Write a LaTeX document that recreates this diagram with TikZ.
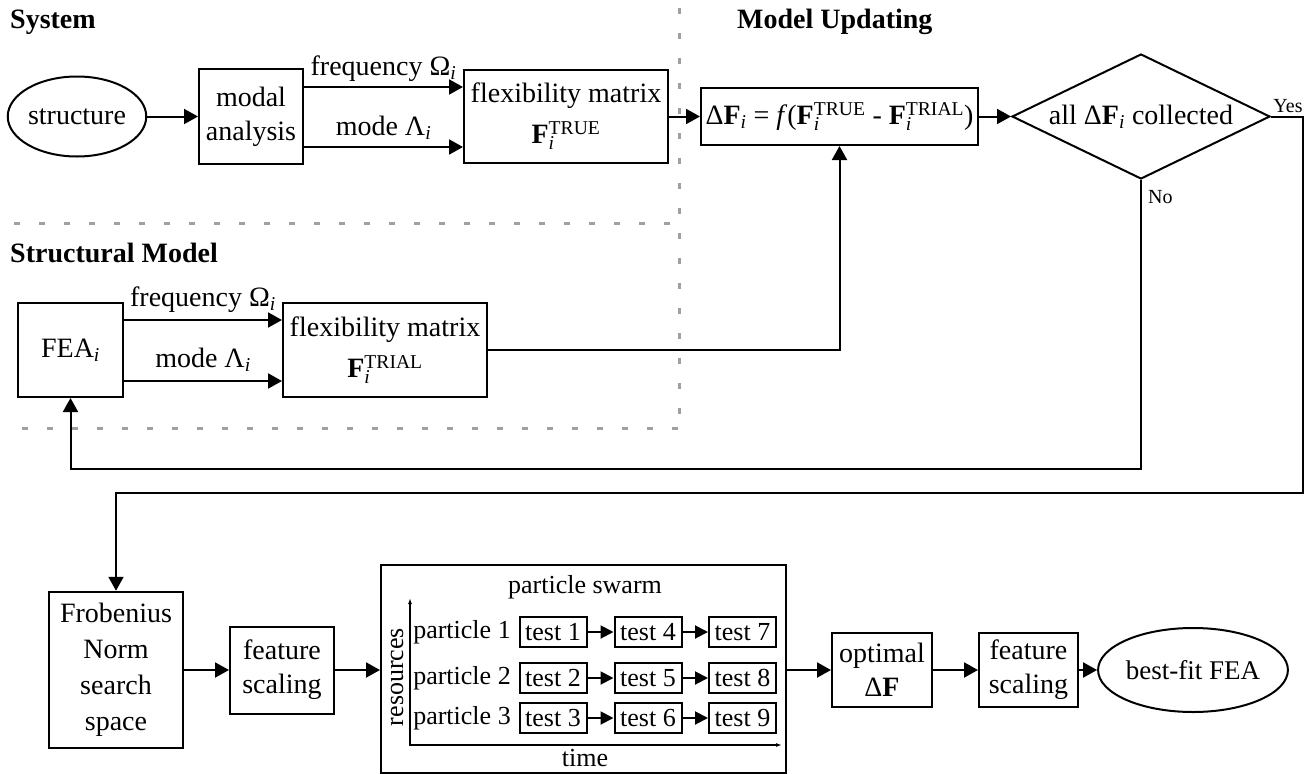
\documentclass[tikz,border=0pt]{standalone}
\usepackage{fontspec}
\setmainfont{Liberation Serif}
\usetikzlibrary{arrows.meta,shapes.geometric,calc}
\definecolor{dashgray}{RGB}{160,160,160}
\newcommand{\Fsup}[1]{$\mathbf{F}_{\mathit{i}}^{\mathrm{#1}}$}
\newcommand{\isub}{$_{\mathit{i}}$}
\begin{document}
\begin{tikzpicture}[x=1pt,y=-1pt,
  every node/.style={font=\fontsize{28}{34}\selectfont},
  box/.style={draw, line width=2pt, rectangle, inner sep=2pt, align=center},
  oval/.style={draw, line width=2pt, ellipse, inner sep=0pt},
  arr/.style={line width=2pt, -{Triangle[length=14pt,width=15pt]}},
  arrs/.style={line width=2pt, -{Triangle[length=13pt,width=13pt]}},
  sepline/.style={draw=dashgray, line width=3pt, dash pattern=on 6pt off 19pt},
  title/.style={font=\fontsize{28}{34}\selectfont\bfseries, anchor=base west, inner sep=0pt},
  small/.style={font=\fontsize{20}{24}\selectfont, inner sep=0pt},
  tbox/.style={draw, line width=2pt, minimum width=67pt, minimum height=30pt, inner sep=1pt, font=\fontsize{26}{30}\selectfont},
  plabel/.style={font=\fontsize{26}{30}\selectfont, inner sep=0pt},
  lbl/.style={anchor=base, inner sep=0pt, yshift=12pt},
]
\useasboundingbox (0,0) rectangle (1310,774);

% separators
\draw[sepline] (679,8) -- (679,428);
\draw[sepline] (14,223) -- (679,223);
\draw[sepline] (22,428) -- (679,428);

% titles
\node[title] (tsys) at (10,28) {System};
\node[title] (tmu) at (737,28) {Model Updating};
\node[title] (tsm) at (10,262) {Structural Model};

% helper heights
\coordinate (y87) at (0,87);
\coordinate (y147) at (0,147);
\coordinate (y320) at (0,320);
\coordinate (y381) at (0,381);

% system row
\node[oval, minimum width=130pt, minimum height=80pt] (struct) at (77,116.5) {structure};
\node[box, minimum width=104pt, minimum height=95pt] (modal) at (251,116.5) {modal\\analysis};
\node[box, minimum width=204pt, minimum height=93pt] (ftrue) at (566,116.5) {flexibility matrix\\[7pt]\Fsup{TRUE}};
\node[box, minimum width=277pt, minimum height=57pt, inner sep=0pt] (dF) at (839.5,116.5) {Δ$\mathbf{F}_{\mathit{i}}$ = \textit{f}(\Fsup{TRUE} - \Fsup{TRIAL})};
\node[draw, line width=2pt, diamond, shape aspect=2.064, minimum width=258pt, minimum height=125pt, inner sep=0pt] (dia) at (1141,116.5) {all Δ$\mathbf{F}_{\mathit{i}}$ collected};

\draw[arr] (struct.east) -- (modal.west);
\draw[arr] (modal.east |- y87) -- node[lbl] (lf1) {frequency Ω\isub} (ftrue.west |- y87);
\draw[arr] (modal.east |- y147) -- node[lbl] (lm1) {mode Λ\isub} (ftrue.west |- y147);
\draw[arr] (ftrue.east) -- (dF.west);
\draw[arr] (dF.east) -- (dia.west);

% structural model row
\node[box, minimum width=105pt, minimum height=94pt] (fea) at (70.5,350) {FEA\isub};
\node[box, minimum width=204pt, minimum height=94pt] (ftrial) at (385,350) {flexibility matrix\\[7pt]\Fsup{TRIAL}};
\draw[arr] (fea.east |- y320) -- node[lbl, yshift=2pt] (lf2) {frequency Ω\isub} (ftrial.west |- y320);
\draw[arr] (fea.east |- y381) -- node[lbl, yshift=2pt] (lm2) {mode Λ\isub} (ftrial.west |- y381);
\draw[arr] (ftrial.east) -| (dF.south);

% decision branches
\node[small, anchor=base] (yes) at (1288,112) {Yes};
\node[small, anchor=base west] (no) at (1148,203) {No};
\coordinate (c1) at (1303,493);
\coordinate (c2) at (70.5,469);

% bottom row
\node[box, line width=2.5pt, minimum width=134pt, minimum height=156pt, font=\fontsize{28}{36}\selectfont] (frob) at (116,670) {Frobenius\\Norm\\search\\space};
\node[box, minimum width=104pt, minimum height=87pt] (fs1) at (282,670) {feature\\scaling};
\node[box, minimum width=405pt, minimum height=208pt] (swarm) at (583.5,669) {};
\node[box, minimum width=100pt, minimum height=74pt] (opt) at (882,670) {optimal\\Δ\textbf{F}};
\node[box, minimum width=99pt, minimum height=74pt] (fs2) at (1028.5,670) {feature\\scaling};
\node[oval, minimum width=146pt, minimum height=84pt, font=\fontsize{27}{32}\selectfont] (best) at (1193,670) {best-fit FEA};

\draw[arr] (dia.east) -| (c1) -| (frob.north);
\draw[arr] (dia.south) |- (c2) -- (fea.south);

\draw[arr] (frob.east) -- (fs1.west);
\draw[arr] (fs1.east) -- (fs1.east -| swarm.west);
\draw[arr] (swarm.east |- opt.west) -- (opt.west);
\draw[arr] (opt.east) -- (fs2.west);
\draw[arr] (fs2.east) -- (best.west);

% swarm contents
\node[plabel] (pstitle) at (585,587) {particle swarm};
\coordinate (origin) at (410,745);
\coordinate (ytop) at (410,598);
\coordinate (xend) at (782,745);
\draw[line width=1.2pt, {Latex[length=6pt,width=4pt]}-{Latex[length=6pt,width=4pt]}] (ytop) -- (origin) -- (xend);
\node[plabel, rotate=90] (res) at (397,677) {resources};
\node[plabel] (time) at (585,758) {time};

\node[plabel] (p1) at (462,632) {particle 1};
\node[plabel] (p2) at (462,678) {particle 2};
\node[plabel] (p3) at (462,718) {particle 3};

\node[tbox] (t1) at (553,632) {test 1};
\node[tbox] (t4) at (648,632) {test 4};
\node[tbox] (t7) at (742.5,632) {test 7};
\node[tbox] (t2) at (553,678) {test 2};
\node[tbox] (t5) at (648,678) {test 5};
\node[tbox] (t8) at (742.5,678) {test 8};
\node[tbox] (t3) at (553,718) {test 3};
\node[tbox] (t6) at (648,718) {test 6};
\node[tbox] (t9) at (742.5,718) {test 9};

\draw[arrs] (t1) -- (t4);
\draw[arrs] (t4) -- (t7);
\draw[arrs] (t2) -- (t5);
\draw[arrs] (t5) -- (t8);
\draw[arrs] (t3) -- (t6);
\draw[arrs] (t6) -- (t9);
\end{tikzpicture}
\end{document}
